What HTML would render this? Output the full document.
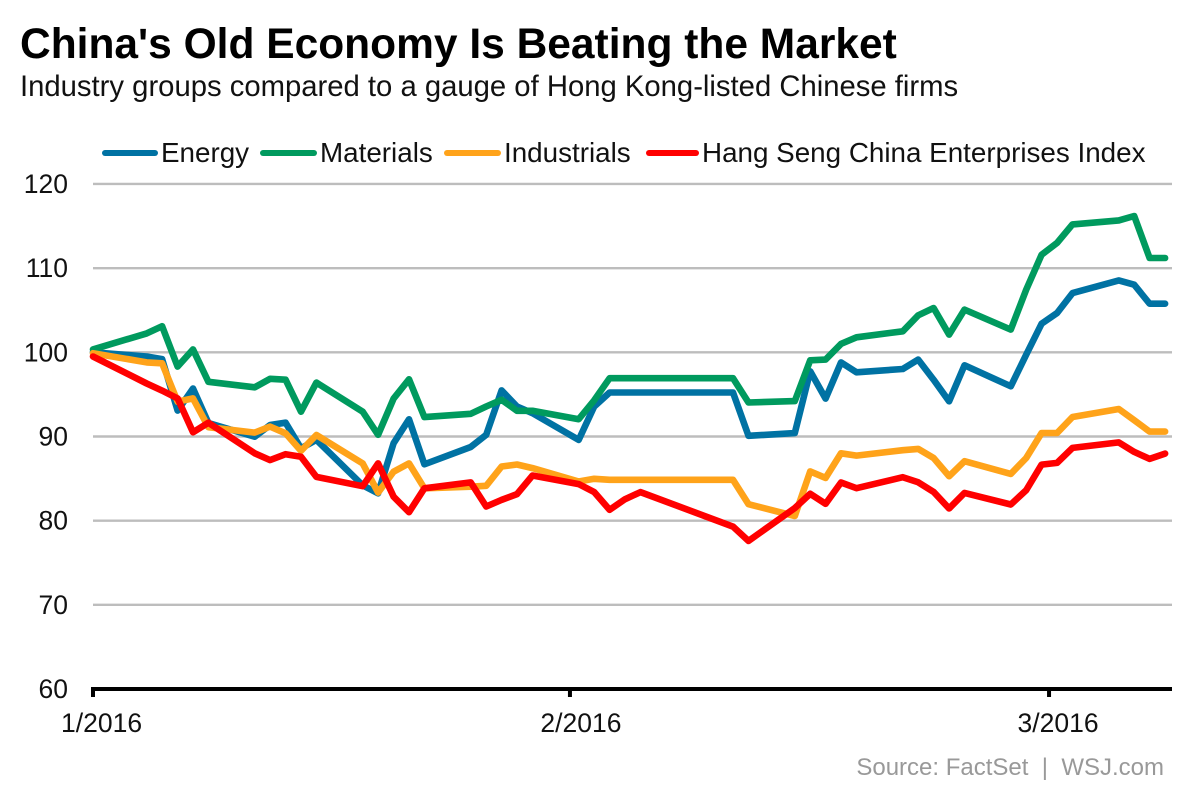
<!DOCTYPE html>
<html lang="en">
<head>
<meta charset="utf-8">
<title>China's Old Economy Is Beating the Market</title>
<style>
html,body{margin:0;padding:0;background:#fff;}
svg{display:block;font-family:"Liberation Sans",Arial,sans-serif;}
</style>
</head>
<body>
<svg id="chart" width="1200" height="800" viewBox="0 0 1200 800" xmlns="http://www.w3.org/2000/svg">
  <rect x="0" y="0" width="1200" height="800" fill="#fff"/>
  <text x="20" y="58" font-size="42.5" font-weight="700" fill="#000">China's Old Economy Is Beating the Market</text>
  <text x="20" y="96" font-size="29.25" fill="#111">Industry groups compared to a gauge of Hong Kong-listed Chinese firms</text>
  <g id="grid"></g>
  <g id="series"></g>
  <g id="axis"></g>
  <g font-size="27.8" fill="#111">
    <g>
      <line x1="105" y1="153" x2="155" y2="153" stroke="#0072a3" stroke-width="6" stroke-linecap="round"/>
      <text x="161" y="162">Energy</text>
    </g>
    <g>
      <line x1="263" y1="153" x2="314" y2="153" stroke="#009a5e" stroke-width="6" stroke-linecap="round"/>
      <text x="320" y="162">Materials</text>
    </g>
    <g>
      <line x1="447" y1="153" x2="498" y2="153" stroke="#ffa31a" stroke-width="6" stroke-linecap="round"/>
      <text x="504" y="162">Industrials</text>
    </g>
    <g>
      <line x1="649" y1="153" x2="696" y2="153" stroke="#ff0000" stroke-width="6" stroke-linecap="round"/>
      <text x="702" y="162">Hang Seng China Enterprises Index</text>
    </g>
  </g>
  <text x="1164" y="775" font-size="24" fill="#999" text-anchor="end">Source: FactSet&#160;&#160;|&#160;&#160;WSJ.com</text>
</svg>
<script>
var sessionDays = [-3.48,
  0,1,2,3,4,
  7,8,9,10,11,
  14,15,16,17,18,
  21,22,23,24,25,
  28,29,30,31,32,
  38,39,
  42,43,44,45,46,
  49,50,51,52,53,
  56,57,58,59,60,
  63,64,65,66];
var energyValues = [100.0,
  99.5,99.2,93.07,95.7,91.6,
  89.98,91.37,91.64,88.6,89.6,
  84.2,83.25,89.2,92.04,86.7,
  88.75,90.2,95.47,93.56,92.77,
  89.6,93.56,95.23,95.23,95.23,
  95.23,90.08,
  90.4,97.74,94.5,98.8,97.63,
  98.02,99.13,96.75,94.18,98.46,
  95.96,99.72,103.4,104.67,107.04,
  108.55,108.03,105.78,105.78];
var materialsValues = [100.35,
  102.25,103.1,98.3,100.35,96.5,
  95.85,96.85,96.75,92.95,96.4,
  92.95,90.2,94.5,96.8,92.3,
  92.7,93.56,94.36,93.05,93.05,
  92.06,94.3,96.93,96.93,96.93,
  96.93,94.04,
  94.2,99.05,99.13,101,101.78,
  102.5,104.4,105.26,102.1,105.07,
  102.7,107.44,111.6,113,115.2,
  115.67,116.2,111.2,111.2];
var industrialsValues = [99.9,
  98.8,98.7,94.14,94.53,91.1,
  90.46,91.17,90.38,88.3,90.18,
  86.8,83.33,85.82,86.8,83.84,
  84.04,84.14,86.44,86.67,86.24,
  84.65,84.97,84.85,84.85,84.85,
  84.85,81.96,
  80.55,85.85,85.08,88.0,87.73,
  88.37,88.52,87.45,85.28,87.06,
  85.56,87.45,90.42,90.42,92.32,
  93.27,91.93,90.58,90.58];
var hangSengValues = [99.5,
  96.3,95.45,94.53,90.5,91.64,
  88,87.2,87.9,87.6,85.2,
  84.1,86.8,82.85,81,83.84,
  84.55,81.68,82.47,83.15,85.37,
  84.34,83.39,81.29,82.55,83.39,
  79.3,77.6,
  81.49,83.19,82,84.53,83.86,
  85.16,84.56,83.42,81.44,83.3,
  81.92,83.62,86.66,86.86,88.64,
  89.3,88.17,87.34,87.97];
var yTickValues = [120,110,100,90,80,70,60];
var xTickDays = [-3.48,27.43,58.48];
var xTickLabels = ['1/2016','2/2016','3/2016'];

var NS = 'http://www.w3.org/2000/svg';
function xScale(d){ return 146.7 + d * 15.43; }
function yScale(v){ return 689 - (v - 60) * 8.417; }
function make(tag, attrs, parent){
  var el = document.createElementNS(NS, tag);
  for (var k in attrs) el.setAttribute(k, attrs[k]);
  parent.appendChild(el);
  return el;
}
var gridG = document.getElementById('grid');
var axisG = document.getElementById('axis');
var seriesG = document.getElementById('series');

yTickValues.forEach(function(v){
  if (v !== 60) {
    var g = make('line', {x1:93, x2:1172, y1:yScale(v), y2:yScale(v), stroke:'#bdbdbd', 'stroke-width':2.4}, gridG);
    
    
  }
  var t = make('text', {x:68, y:yScale(v) + 9, 'font-size':26.5, fill:'#111', 'text-anchor':'end'}, axisG);
  
  
  t.textContent = v;
});

var baseline = make('line', {x1:91, x2:1172, y1:689, y2:689, stroke:'#000', 'stroke-width':4}, axisG);



xTickDays.forEach(function(d, i){
  var x = xScale(d);
  var tick = make('line', {x1:x, x2:x, y1:688, y2:697, stroke:'#000', 'stroke-width':4}, axisG);
  
  
  var t = make('text', {x:x, y:732, 'font-size':26.5, fill:'#111', 'text-anchor':i === 0 ? 'start' : 'middle'}, axisG);
  if (i === 0) t.setAttribute('x', x - 32);
  if (i === 1) t.setAttribute('x', x + 11);
  if (i === 2) t.setAttribute('x', x + 9);
  
  
  t.textContent = xTickLabels[i];
});

function drawSeries(values, color, name){
  var pts = values.map(function(v, i){
    return xScale(sessionDays[i]).toFixed(1) + ',' + yScale(v).toFixed(1);
  }).join(' ');
  var line = make('polyline', {points:pts, fill:'none', stroke:color, 'stroke-width':6.6, 'stroke-linejoin':'round', 'stroke-linecap':'round'}, seriesG);
  
  
}
drawSeries(energyValues, '#0072a3', 'energy-line');
drawSeries(materialsValues, '#009a5e', 'materials-line');
drawSeries(industrialsValues, '#ffa31a', 'industrials-line');
drawSeries(hangSengValues, '#ff0000', 'hang-seng-line');
</script>
</body>
</html>
